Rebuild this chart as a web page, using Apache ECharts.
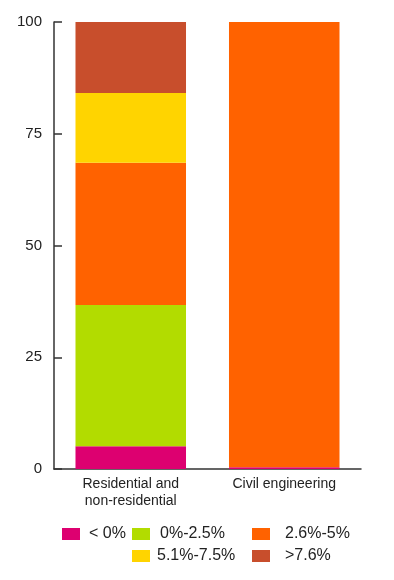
<!DOCTYPE html>
<html><head><meta charset="utf-8">
<style>html,body{margin:0;padding:0;background:#fff}#c{width:394px;height:580px}</style>
<script src="https://cdn.jsdelivr.net/npm/echarts@6/dist/echarts.min.js"></script>
</head><body><div id="c"></div>
<script>
var categories = ['Residential and\nnon-residential', 'Civil engineering'];
var seriesNames = ['< 0%', '0%-2.5%', '2.6%-5%', '5.1%-7.5%', '>7.6%'];
var lt0 = [5.1, 0.4];
var r0to25 = [31.6, 0];
var r26to5 = [31.8, 99.6];
var r51to75 = [15.6, 0];
var gt76 = [15.9, 0];
var yTicks = [0, 25, 50, 75, 100];
var colors = ['#DD0070', '#B2DC00', '#FF6200', '#FFD400', '#C84E2C'];
var values = [lt0, r0to25, r26to5, r51to75, gt76];

var font = 'Liberation Sans';
var chart = echarts.init(document.getElementById('c'));
var legendPos = [[62, 526], [132, 526], [252, 526], [132, 548], [252, 548]];
var legendGap = [9, 10, 15, 7, 15];
var legends = seriesNames.map(function (n, i) {
  return {
    data: [n], left: legendPos[i][0], top: legendPos[i][1],
    itemWidth: 18, itemHeight: 12, itemGap: 0, padding: 0,
    icon: 'rect', selectedMode: false,
    textStyle: { fontFamily: font, fontSize: 16, color: '#222', padding: [0, 0, 0, legendGap[i] - 5] }
  };
});
chart.setOption({
  animation: false,
  color: colors,
  legend: legends,
  grid: { left: 54, right: 33, top: 22, bottom: 111, containLabel: false },
  xAxis: {
    type: 'category', data: categories,
    axisLine: { lineStyle: { color: '#333', width: 1.5 } },
    axisTick: { inside: true, length: 10, lineStyle: { color: '#333', width: 1.5 } },
    axisLabel: { fontFamily: font, fontSize: 14, color: '#222', margin: 7, lineHeight: 17 }
  },
  yAxis: {
    type: 'value', min: 0, max: 100, interval: 25,
    axisLine: { show: true, lineStyle: { color: '#333', width: 1.5 } },
    axisTick: { show: true, inside: true, length: 8, lineStyle: { color: '#333', width: 1.5 } },
    splitLine: { show: false },
    axisLabel: { fontFamily: font, fontSize: 15, color: '#222', margin: 12,
      formatter: function (v) { return yTicks.indexOf(v) >= 0 ? String(v) : ''; } }
  },
  series: seriesNames.map(function (n, i) {
    return { name: n, type: 'bar', stack: 'a', barWidth: '72%', data: values[i],
      itemStyle: { color: colors[i] } };
  })
});
</script></body></html>
